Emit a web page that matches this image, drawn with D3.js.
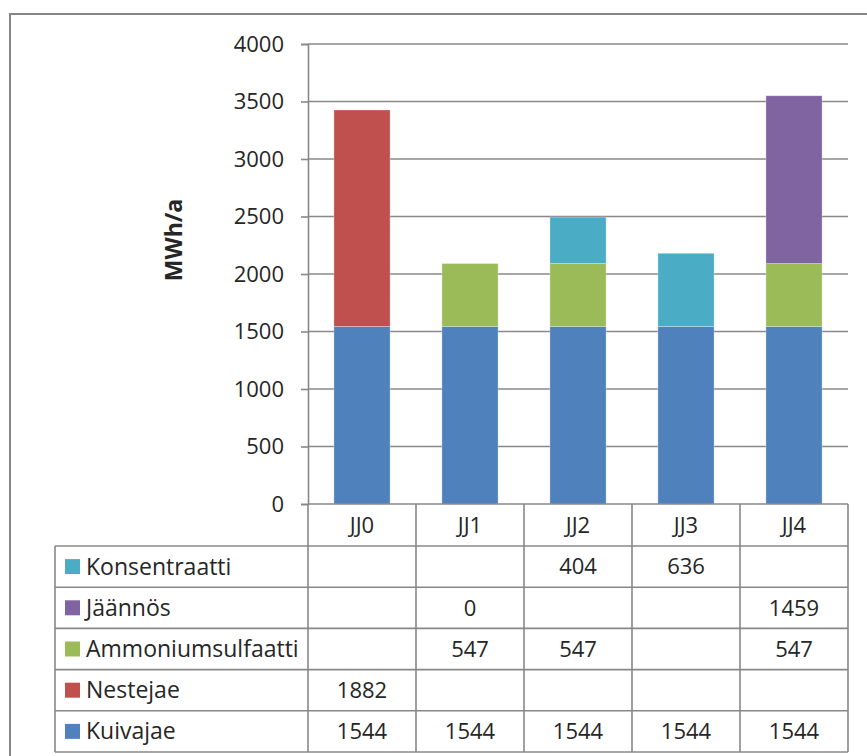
<!DOCTYPE html>
<html>
<head>
<meta charset="utf-8">
<script src="https://cdn.jsdelivr.net/npm/d3@7/dist/d3.min.js"></script>
<style>
  html, body { margin: 0; padding: 0; background: #ffffff; }
  svg { display: block; font-family: "Open Sans", "Noto Sans", sans-serif; }
</style>
</head>
<body>
<svg id="chart" width="867" height="756"></svg>
<script>
// Energy use per scenario, MWh/a
const categories = ["JJ0", "JJ1", "JJ2", "JJ3", "JJ4"];
const kuivajae = [1544, 1544, 1544, 1544, 1544];
const nestejae = [1882, null, null, null, null];
const ammoniumsulfaatti = [null, 547, 547, null, 547];
const jaannos = [null, 0, null, null, 1459];
const konsentraatti = [null, null, 404, 636, null];
const yTicks = [0, 500, 1000, 1500, 2000, 2500, 3000, 3500, 4000];

// Series in stacking order (bottom first)
const series = [
  { name: "Kuivajae", values: kuivajae, color: "#4F81BD" },
  { name: "Nestejae", values: nestejae, color: "#C0504D" },
  { name: "Ammoniumsulfaatti", values: ammoniumsulfaatti, color: "#9BBB59" },
  { name: "Jäännös", values: jaannos, color: "#8064A2" },
  { name: "Konsentraatti", values: konsentraatti, color: "#4BACC6" }
];

const svg = d3.select("#chart");
const gridColor = "#888888";
const textColor = "#262626";
const fontSize = 22;
const labelFontSize = 23;

const plotLeft = 308, plotRight = 848, plotTop = 44, plotBottom = 504;
const tableLeft = 55, headerBottom = 546, tableBottom = 752;

const x = d3.scaleBand().domain(categories).range([plotLeft, plotRight]).paddingInner(0).paddingOuter(0);
const y = d3.scaleLinear().domain([0, 4000]).range([plotBottom, plotTop]);

// Outer frame
svg.append("rect")
  .attr("x", 10).attr("y", 14)
  .attr("width", 900).attr("height", 800)
  .attr("fill", "none").attr("stroke", "#878787").attr("stroke-width", 2);

// Gridlines
svg.append("g")
  .selectAll("line")
  .data(yTicks.filter(t => t > 0))
  .join("line")
  .attr("x1", plotLeft).attr("x2", plotRight)
  .attr("y1", d => y(d)).attr("y2", d => y(d))
  .attr("stroke", gridColor).attr("stroke-width", 1.6);

// Y axis with outward ticks
const yAxis = d3.axisLeft(y).tickValues(yTicks).tickSize(7).tickPadding(17).tickFormat(d3.format("d"));
const yAxisG = svg.append("g").attr("transform", `translate(${plotLeft},0)`).call(yAxis);
yAxisG.select(".domain").attr("stroke", gridColor).attr("stroke-width", 1.6);
yAxisG.selectAll(".tick line").attr("stroke", gridColor).attr("stroke-width", 1.6);
yAxisG.selectAll(".tick text")
  .attr("fill", textColor)
  .style("font-size", fontSize + "px")
  .style("font-family", "'Open Sans', 'Noto Sans', sans-serif");

// Y axis title
svg.append("text")
  .attr("transform", "translate(182,240) rotate(-90)")
  .attr("text-anchor", "middle")
  .attr("fill", textColor)
  .style("font-size", "23px")
  .style("font-weight", "bold")
  .text("MWh/a");

// Stacked bars
const tableRows = categories.map((c, i) => {
  const row = { category: c };
  series.forEach(s => { row[s.name] = s.values[i] == null ? 0 : s.values[i]; });
  return row;
});
const stack = d3.stack().keys(series.map(s => s.name));
const stacked = stack(tableRows);
const barW = x.bandwidth() * 0.52;

svg.append("g")
  .selectAll("g")
  .data(stacked)
  .join("g")
  .attr("fill", (d, i) => series[i].color)
  .selectAll("rect")
  .data(d => d)
  .join("rect")
  .attr("x", d => x(d.data.category) + (x.bandwidth() - barW) / 2)
  .attr("width", barW)
  .attr("y", d => y(d[1]))
  .attr("height", d => Math.max(0, y(d[0]) - y(d[1])))
  .attr("stroke", "rgba(255,255,255,0.35)")
  .attr("stroke-width", 0.8);

// Data table
const rowOrder = series.slice().reverse(); // Konsentraatti on top
const rowH = (tableBottom - headerBottom) / rowOrder.length;
const table = svg.append("g");

// Horizontal rules
const hY = [plotBottom].concat(d3.range(rowOrder.length + 1).map(i => headerBottom + i * rowH));
table.selectAll("line.h")
  .data(hY)
  .join("line")
  .attr("class", "h")
  .attr("x1", (d, i) => i === 0 ? plotLeft : tableLeft)
  .attr("x2", plotRight)
  .attr("y1", d => d).attr("y2", d => d)
  .attr("stroke", gridColor).attr("stroke-width", 1.6);

// Vertical rules
const vX = categories.map(c => x(c)).concat([plotRight]);
table.selectAll("line.v")
  .data(vX)
  .join("line")
  .attr("class", "v")
  .attr("x1", d => d).attr("x2", d => d)
  .attr("y1", plotBottom).attr("y2", tableBottom)
  .attr("stroke", gridColor).attr("stroke-width", 1.6);
table.append("line")
  .attr("x1", tableLeft).attr("x2", tableLeft)
  .attr("y1", headerBottom).attr("y2", tableBottom)
  .attr("stroke", gridColor).attr("stroke-width", 1.6);

// Header (category names)
table.selectAll("text.cat")
  .data(categories)
  .join("text")
  .attr("class", "cat")
  .attr("x", d => x(d) + x.bandwidth() / 2)
  .attr("y", (plotBottom + headerBottom) / 2)
  .attr("dy", "0.35em")
  .attr("text-anchor", "middle")
  .attr("fill", textColor)
  .style("font-size", fontSize + "px")
  .text(d => d);

// Rows: legend key, series name, values
rowOrder.forEach((s, r) => {
  const cy = headerBottom + r * rowH + rowH / 2;
  table.append("rect")
    .attr("x", 65).attr("y", cy - 7.5)
    .attr("width", 15).attr("height", 15)
    .attr("fill", s.color);
  table.append("text")
    .attr("x", 86).attr("y", cy)
    .attr("dy", "0.35em")
    .attr("fill", textColor)
    .style("font-size", labelFontSize + "px")
    .text(s.name);
  table.selectAll(null)
    .data(s.values.map((v, i) => ({ v, c: categories[i] })).filter(d => d.v != null))
    .join("text")
    .attr("x", d => x(d.c) + x.bandwidth() / 2)
    .attr("y", cy)
    .attr("dy", "0.35em")
    .attr("text-anchor", "middle")
    .attr("fill", textColor)
    .style("font-size", fontSize + "px")
    .text(d => d.v);
});
</script>
</body>
</html>
